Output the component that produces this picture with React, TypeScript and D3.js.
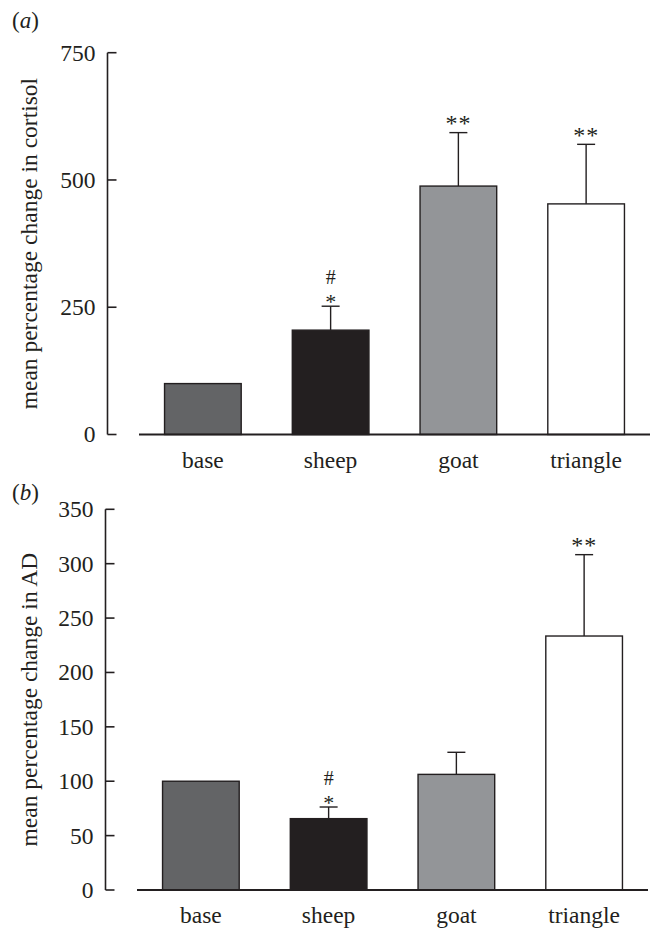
import React from "react";
import * as d3 from "d3";

const categories = ["base", "sheep", "goat", "triangle"];
const fills = ["#636466", "#231f20", "#939598", "#ffffff"];

const cortisolMean = [100, 205, 488, 453];
const cortisolErr = [0, 47, 105, 117];
const cortisolHash = ["", "#", "", ""];
const cortisolStar = ["", "*", "**", "**"];
const cortisolTicks = [0, 250, 500, 750];

const adMean = [100, 65.6, 106.3, 233.5];
const adErr = [0, 10.7, 20.3, 74.8];
const adHash = ["", "#", "", ""];
const adStar = ["", "*", "", "**"];
const adTicks = [0, 50, 100, 150, 200, 250, 300, 350];

const INK = "#231f20";
const FONT = "'Liberation Serif', 'Times New Roman', serif";

type PanelProps = {
  letter: string;
  ylabel: string;
  means: number[];
  errs: number[];
  hash: string[];
  star: string[];
  ticks: number[];
  yTop: number;
  yBottom: number;
  axisX: number;
  xRange: [number, number];
  letterY: number;
};

function Panel(p: PanelProps) {
  const max = p.ticks[p.ticks.length - 1];
  const y = d3.scaleLinear().domain([0, max]).range([p.yBottom, p.yTop]);
  const x = d3
    .scaleBand<string>()
    .domain(categories)
    .range(p.xRange)
    .paddingInner(0.4)
    .paddingOuter(0.2);
  const bw = x.bandwidth();
  const capHalf = 9;
  const labelCenter = (p.yTop + p.yBottom) / 2;
  return (
    <g>
      <text x={12} y={p.letterY} fontFamily={FONT} fontSize={23} fill={INK}>
        (<tspan fontStyle="italic">{p.letter}</tspan>)
      </text>
      <text
        transform={`translate(37,${labelCenter}) rotate(-90)`}
        textAnchor="middle"
        fontFamily={FONT}
        fontSize={23.5}
        fill={INK}
      >
        {p.ylabel}
      </text>
      <line x1={p.axisX} x2={p.axisX} y1={y(0)} y2={y(max)} stroke={INK} strokeWidth={1.6} />
      {p.ticks.map((t) => (
        <g key={t}>
          <line x1={p.axisX} x2={p.axisX + 9} y1={y(t)} y2={y(t)} stroke={INK} strokeWidth={1.6} />
          <text
            x={p.axisX - 12}
            y={y(t)}
            dy="0.34em"
            textAnchor="end"
            fontFamily={FONT}
            fontSize={23.5}
            fill={INK}
          >
            {t}
          </text>
        </g>
      ))}
      {categories.map((c, i) => {
        const x0 = x(c)!;
        const cx = x0 + bw / 2;
        const top = y(p.means[i]);
        const errTop = y(p.means[i] + p.errs[i]);
        const withHash = !!p.hash[i];
        return (
          <g key={c}>
            {p.errs[i] > 0 && (
              <g>
                <line x1={cx} x2={cx} y1={top} y2={errTop} stroke={INK} strokeWidth={1.4} />
                <line x1={cx - capHalf} x2={cx + capHalf} y1={errTop} y2={errTop} stroke={INK} strokeWidth={1.4} />
              </g>
            )}
            <rect
              x={x0}
              y={top}
              width={bw}
              height={y(0) - top}
              fill={fills[i]}
              stroke={INK}
              strokeWidth={1.4}
            />
            {withHash && (
              <text
                x={cx}
                y={errTop - 22.5}
                textAnchor="middle"
                fontFamily={FONT}
                fontSize={20}
                fill={INK}
              >
                {p.hash[i]}
              </text>
            )}
            {p.star[i] && (
              <text
                x={cx}
                y={withHash ? errTop + 2.5 : errTop - 1.5}
                textAnchor="middle"
                fontFamily={FONT}
                fontSize={withHash ? 22 : 24}
                letterSpacing={withHash ? 0 : 1}
                fill={INK}
              >
                {p.star[i]}
              </text>
            )}
            <text
              x={cx}
              y={y(0) + 33}
              textAnchor="middle"
              fontFamily={FONT}
              fontSize={23.5}
              fill={INK}
            >
              {c}
            </text>
          </g>
        );
      })}
      <line x1={p.xRange[0]} x2={p.xRange[1]} y1={y(0)} y2={y(0)} stroke={INK} strokeWidth={1.8} />
    </g>
  );
}

export default function App() {
  return (
    <svg
      width={654}
      height={929}
      style={{ position: "absolute", left: 0, top: 0, background: "#fff" }}
    >
      <rect width={654} height={929} fill="#fff" />
      <Panel
        letter="a"
        ylabel="mean percentage change in cortisol"
        means={cortisolMean}
        errs={cortisolErr}
        hash={cortisolHash}
        star={cortisolStar}
        ticks={cortisolTicks}
        yTop={52.7}
        yBottom={434.5}
        axisX={107.5}
        xRange={[139, 650]}
        letterY={28}
      />
      <Panel
        letter="b"
        ylabel="mean percentage change in AD"
        means={adMean}
        errs={adErr}
        hash={adHash}
        star={adStar}
        ticks={adTicks}
        yTop={509.3}
        yBottom={890}
        axisX={105.5}
        xRange={[137, 648]}
        letterY={500}
      />
    </svg>
  );
}
